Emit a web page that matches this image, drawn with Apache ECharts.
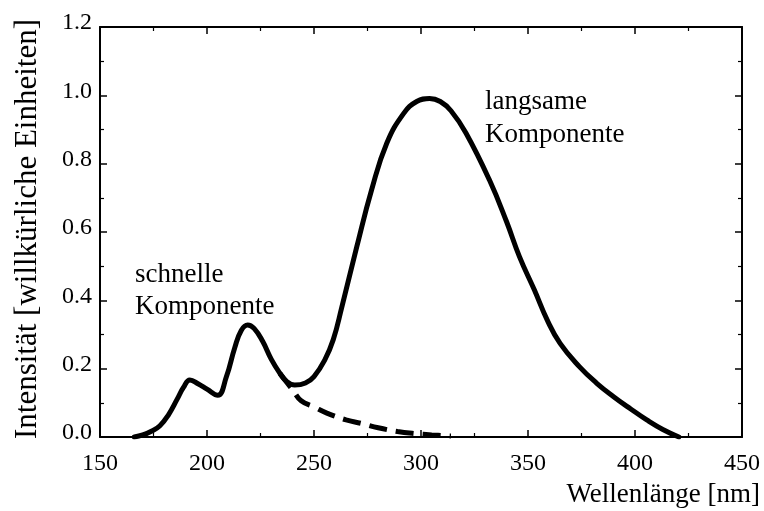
<!DOCTYPE html>
<html>
<head>
<meta charset="utf-8">
<script src="https://cdn.jsdelivr.net/npm/echarts@6/dist/echarts.min.js"></script>
<style>
html,body{margin:0;padding:0;background:#fff;}
#chart{width:764px;height:511px;}
</style>
</head>
<body>
<div id="chart"></div>
<script>
// Gesamtspektrum (schnelle + langsame Komponente)
const waveTotal = [166,170,174,178,182,186,189,192,196,200,205,209,213,216,219,222,226,230,234,237,241,246,250,255,259,263,270,277,284,292,298,304,309,314,321,332,340,346,353,359,365,374,382,390,398,405.5,413,420.5];
const intensityTotal = [0,0.006,0.017,0.033,0.065,0.11,0.145,0.167,0.155,0.14,0.122,0.175,0.262,0.312,0.328,0.318,0.28,0.228,0.187,0.164,0.152,0.158,0.177,0.225,0.285,0.38,0.557,0.725,0.86,0.948,0.982,0.991,0.982,0.955,0.89,0.752,0.63,0.528,0.43,0.342,0.274,0.206,0.158,0.118,0.082,0.05,0.022,0];
// Ausläufer der schnellen Komponente (gestrichelt)
const waveFast = [234,240,244,250,256,265,272,280,289,297,305,314];
const intensityFast = [0.187,0.138,0.106,0.088,0.07,0.05,0.04,0.027,0.016,0.01,0.006,0.003];

const xTicks = {min:150, max:450, interval:50};
const yTicks = {min:0, max:1.2, interval:0.2};

const font = 'Liberation Serif, Times New Roman, serif';
const zip = (a,b) => a.map((v,i)=>[v,b[i]]);

const chart = echarts.init(document.getElementById('chart'), null, {renderer:'canvas'});

const axisLine = {show:true, onZero:false, lineStyle:{color:'#000', width:2}};
const axisTick = {show:true, inside:true, length:7, lineStyle:{color:'#000', width:1.5}};
const minorTick = {show:true, splitNumber:2, length:4, lineStyle:{color:'#000', width:1.2}};

chart.setOption({
  backgroundColor:'#fff',
  animation:false,
  grid:{left:100, right:22, top:27, bottom:74, containLabel:false},
  xAxis:[
    {type:'value', position:'bottom', min:xTicks.min, max:xTicks.max, interval:xTicks.interval,
     axisLine, axisTick, minorTick, splitLine:{show:false},
     axisLabel:{color:'#000', fontFamily:font, fontSize:24, margin:15},
     name:'Wellenlänge [nm]', nameLocation:'end', nameGap:18,
     nameTextStyle:{color:'#000', fontFamily:font, fontSize:27, align:'right', verticalAlign:'top', padding:[44,0,0,0]}},
    {type:'value', position:'top', min:xTicks.min, max:xTicks.max, interval:xTicks.interval,
     axisLine, axisTick, minorTick, splitLine:{show:false}, axisLabel:{show:false}}
  ],
  yAxis:[
    {type:'value', position:'left', min:yTicks.min, max:yTicks.max, interval:yTicks.interval,
     axisLine, axisTick, minorTick, splitLine:{show:false},
     axisLabel:{color:'#000', fontFamily:font, fontSize:24, margin:8,
       formatter:v=>'{a|'+v.toFixed(1)+'}',
       rich:{a:{fontFamily:font, fontSize:24, color:'#000', padding:[0,0,8,0]}}},
     name:'Intensität [willkürliche Einheiten]', nameLocation:'middle', nameGap:57,
     nameTextStyle:{color:'#000', fontFamily:font, fontSize:31, padding:[0,0,0,6]}},
    {type:'value', position:'right', min:yTicks.min, max:yTicks.max, interval:yTicks.interval,
     axisLine, axisTick, minorTick, splitLine:{show:false}, axisLabel:{show:false}}
  ],
  series:[
    {type:'line', xAxisIndex:0, yAxisIndex:0, data:zip(waveFast,intensityFast), smooth:0.4,
     showSymbol:false, lineStyle:{color:'#000', width:5, type:[18,9]}, z:2},
    {type:'line', xAxisIndex:0, yAxisIndex:0, data:zip(waveTotal,intensityTotal), smooth:0.45,
     showSymbol:false, lineStyle:{color:'#000', width:5, cap:'round', join:'round'}, z:3}
  ],
  graphic:[
    {type:'text', left:135, top:261, style:{text:'schnelle', font:'27px '+font, fill:'#000'}},
    {type:'text', left:135, top:293, style:{text:'Komponente', font:'27px '+font, fill:'#000'}},
    {type:'text', left:485, top:88, style:{text:'langsame', font:'27px '+font, fill:'#000'}},
    {type:'text', left:485, top:121, style:{text:'Komponente', font:'27px '+font, fill:'#000'}}
  ]
});
</script>
</body>
</html>
